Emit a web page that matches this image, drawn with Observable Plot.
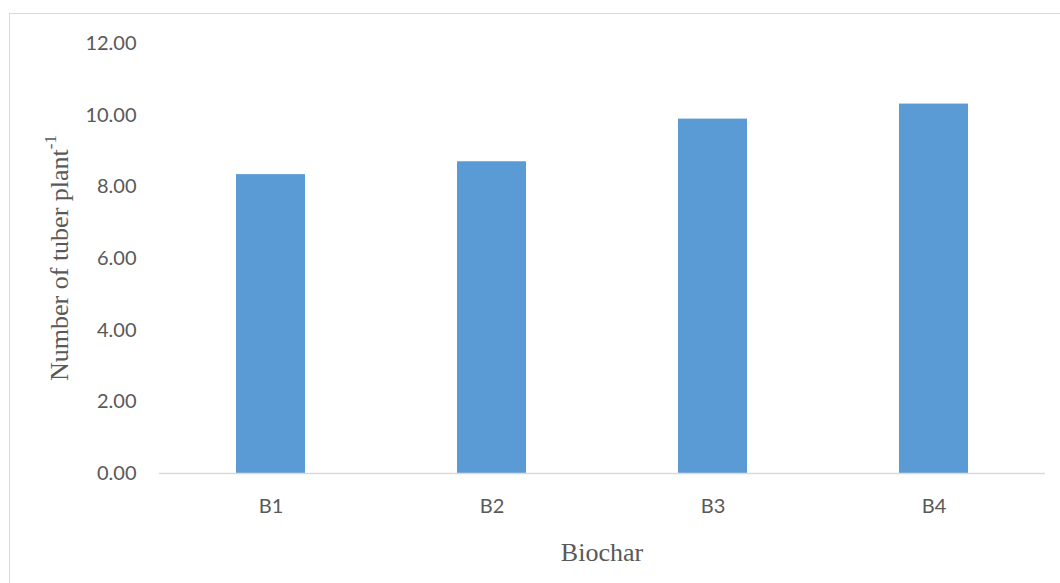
<!DOCTYPE html>
<html>
<head>
<meta charset="utf-8">
<script src="https://cdn.jsdelivr.net/npm/d3@7"></script>
<script src="https://cdn.jsdelivr.net/npm/@observablehq/plot@0.6"></script>
<style>
  html, body { margin: 0; padding: 0; background: #fff; }
  #wrap { position: relative; width: 1060px; height: 583px; overflow: hidden; }
  #frame { position: absolute; left: 9px; top: 13px; width: 1100px; height: 620px;
           border: 1.5px solid #d9d9d9; box-sizing: border-box; pointer-events: none; }
  #chart { position: absolute; left: 0; top: 0; }
</style>
</head>
<body>
<div id="wrap">
  <div id="frame"></div>
  <div id="chart"></div>
</div>
<script>
// Number of tubers per plant under four biochar treatments
const treatments = ["B1", "B2", "B3", "B4"];
const tubers = [8.34, 8.70, 9.89, 10.31];
const yTicks = [0, 2, 4, 6, 8, 10, 12];

const data = treatments.map((t, i) => ({treatment: t, value: tubers[i]}));

const W = 1060, H = 583;
const mTop = 43, mBottom = 110, mLeft = 159, mRight = 15;
const grey = "#595959";

const chart = Plot.plot({
  width: W,
  height: H,
  marginTop: mTop,
  marginBottom: mBottom,
  marginLeft: mLeft,
  marginRight: mRight,
  style: {background: "transparent", color: grey, fontFamily: "Lato, 'Open Sans', sans-serif"},
  x: {domain: treatments, paddingInner: 0.688, paddingOuter: 0.344, label: null},
  y: {domain: [0, 12], label: null},
  marks: [
    Plot.barY(data, {x: "treatment", y: "value", fill: "#5b9bd5"}),
    Plot.ruleY([0], {stroke: "#d9d9d9", strokeWidth: 1.5}),
    Plot.axisY({ticks: yTicks, tickFormat: d3.format(".2f"), tickSize: 0, tickPadding: 23,
                fontSize: 20, fill: grey, label: null}),
    Plot.axisX({tickSize: 0, tickPadding: 25, fontSize: 20, fill: grey, label: null})
  ]
});

document.getElementById("chart").appendChild(chart);

// Axis titles in a serif face, with a superscript unit on the y title
const svg = d3.select(chart);
const cx = (mLeft + (W - mRight)) / 2;
const cy = (mTop + (H - mBottom)) / 2;

svg.append("text")
  .attr("x", cx)
  .attr("y", 561)
  .attr("text-anchor", "middle")
  .attr("font-family", "'Liberation Serif', 'Times New Roman', serif")
  .attr("font-size", 26)
  .attr("fill", grey)
  .text("Biochar");

const yt = svg.append("text")
  .attr("transform", `translate(68,${cy}) rotate(-90)`)
  .attr("text-anchor", "middle")
  .attr("font-family", "'Liberation Serif', 'Times New Roman', serif")
  .attr("font-size", 26)
  .attr("fill", grey);
yt.append("tspan").text("Number of tuber plant");
yt.append("tspan").attr("font-size", 17).attr("dy", "-0.7em").text("-1");
</script>
</body>
</html>
